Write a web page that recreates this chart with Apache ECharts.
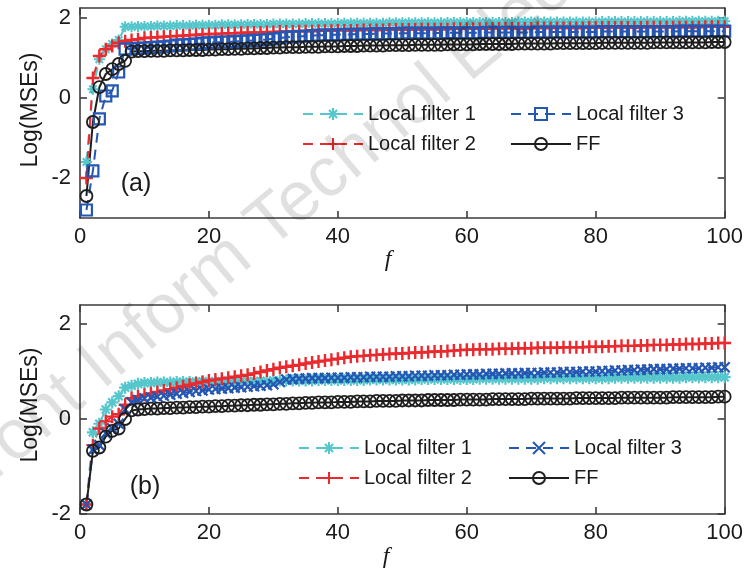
<!DOCTYPE html>
<html><head><meta charset="utf-8">
<script src="https://cdn.jsdelivr.net/npm/echarts@6/dist/echarts.min.js"></script>
<style>html,body{margin:0;padding:0;background:#fff}#c{width:746px;height:570px}</style>
</head><body><div id="c"></div>
<script>
// x samples f = 1..100
const f = Array.from({length: 100}, (_, i) => i + 1);

const xTicks = [0, 20, 40, 60, 80, 100];
const yTicksA = [-2, 0, 2];
const yTicksB = [-2, 0, 2];

const seriesNames = ['Local filter 1', 'Local filter 2', 'Local filter 3', 'FF'];

// ---- panel (a) ----
const a_lf1 = [-1.60,0.22,0.97,1.22,1.35,1.45,1.78,1.78,1.79,1.79,
1.79,1.80,1.80,1.80,1.81,1.81,1.81,1.82,1.82,1.82,
1.82,1.83,1.83,1.83,1.83,1.84,1.84,1.84,1.84,1.85,
1.85,1.85,1.85,1.85,1.86,1.86,1.86,1.86,1.86,1.86,
1.87,1.87,1.87,1.87,1.87,1.87,1.87,1.88,1.88,1.88,
1.88,1.88,1.88,1.88,1.88,1.88,1.89,1.89,1.89,1.89,
1.89,1.89,1.89,1.89,1.89,1.89,1.89,1.90,1.90,1.90,
1.90,1.90,1.90,1.90,1.90,1.90,1.90,1.90,1.90,1.90,
1.91,1.91,1.91,1.91,1.91,1.91,1.91,1.91,1.91,1.91,
1.91,1.91,1.92,1.92,1.92,1.92,1.92,1.92,1.92,1.92];
const a_lf2 = [-2.00,0.50,1.05,1.22,1.30,1.38,1.42,1.45,1.47,1.50,
1.51,1.52,1.53,1.54,1.55,1.56,1.57,1.58,1.59,1.60,
1.60,1.61,1.62,1.62,1.63,1.63,1.64,1.64,1.65,1.65,
1.66,1.66,1.66,1.67,1.67,1.67,1.68,1.68,1.68,1.69,
1.69,1.69,1.69,1.70,1.70,1.70,1.70,1.71,1.71,1.71,
1.71,1.71,1.72,1.72,1.72,1.72,1.72,1.73,1.73,1.73,
1.73,1.73,1.73,1.74,1.74,1.74,1.74,1.74,1.74,1.74,
1.75,1.75,1.75,1.75,1.75,1.75,1.75,1.75,1.76,1.76,
1.76,1.76,1.76,1.76,1.76,1.76,1.76,1.77,1.77,1.77,
1.77,1.77,1.77,1.77,1.77,1.77,1.78,1.78,1.78,1.78];
const a_lf3 = [-2.80,-1.82,-0.52,0.05,0.18,0.65,1.22,1.23,1.24,1.25,
1.26,1.27,1.28,1.30,1.32,1.33,1.34,1.35,1.37,1.38,
1.39,1.40,1.40,1.41,1.42,1.43,1.44,1.45,1.46,1.48,
1.50,1.52,1.53,1.54,1.55,1.56,1.57,1.57,1.58,1.58,
1.59,1.59,1.60,1.60,1.60,1.61,1.61,1.61,1.61,1.62,
1.62,1.62,1.62,1.62,1.62,1.63,1.63,1.63,1.63,1.63,
1.63,1.63,1.64,1.64,1.64,1.64,1.64,1.64,1.64,1.64,
1.65,1.65,1.65,1.65,1.65,1.65,1.65,1.65,1.65,1.65,
1.66,1.66,1.66,1.66,1.66,1.66,1.66,1.66,1.66,1.66,
1.66,1.66,1.67,1.67,1.67,1.67,1.67,1.67,1.67,1.67];
const a_ff = [-2.45,-0.60,0.27,0.60,0.72,0.85,0.93,1.16,1.17,1.17,
1.18,1.18,1.18,1.19,1.19,1.19,1.20,1.20,1.20,1.21,
1.21,1.22,1.22,1.23,1.23,1.24,1.24,1.25,1.25,1.26,
1.26,1.27,1.27,1.27,1.28,1.28,1.28,1.29,1.29,1.29,
1.30,1.30,1.30,1.31,1.31,1.31,1.31,1.32,1.32,1.32,
1.32,1.33,1.33,1.33,1.33,1.33,1.34,1.34,1.34,1.34,
1.34,1.35,1.35,1.35,1.35,1.35,1.35,1.36,1.36,1.36,
1.36,1.36,1.36,1.37,1.37,1.37,1.37,1.37,1.37,1.37,
1.38,1.38,1.38,1.38,1.38,1.38,1.38,1.38,1.39,1.39,
1.39,1.39,1.39,1.39,1.39,1.39,1.39,1.40,1.40,1.40];

// ---- panel (b) ----
const b_lf1 = [-1.80,-0.28,-0.10,0.20,0.35,0.48,0.66,0.70,0.74,0.76,
0.76,0.77,0.77,0.77,0.78,0.78,0.78,0.78,0.79,0.79,
0.79,0.79,0.79,0.80,0.80,0.80,0.80,0.80,0.80,0.81,
0.81,0.81,0.81,0.81,0.81,0.81,0.82,0.82,0.82,0.82,
0.82,0.82,0.82,0.82,0.83,0.83,0.83,0.83,0.83,0.83,
0.83,0.83,0.84,0.84,0.84,0.84,0.84,0.84,0.84,0.84,
0.84,0.85,0.85,0.85,0.85,0.85,0.85,0.85,0.85,0.85,
0.85,0.86,0.86,0.86,0.86,0.86,0.86,0.86,0.86,0.86,
0.86,0.86,0.87,0.87,0.87,0.87,0.87,0.87,0.87,0.87,
0.87,0.87,0.87,0.88,0.88,0.88,0.88,0.88,0.88,0.88];
const b_lf2 = [-1.80,-0.55,-0.20,-0.05,0.05,0.10,0.30,0.44,0.48,0.51,
0.54,0.57,0.60,0.63,0.66,0.69,0.72,0.75,0.78,0.81,
0.83,0.85,0.87,0.89,0.91,0.93,0.96,0.99,1.02,1.05,
1.08,1.10,1.12,1.14,1.17,1.19,1.21,1.23,1.25,1.27,
1.29,1.31,1.32,1.33,1.34,1.35,1.36,1.37,1.38,1.38,
1.39,1.40,1.40,1.41,1.42,1.42,1.43,1.44,1.45,1.46,
1.46,1.47,1.47,1.47,1.48,1.48,1.48,1.49,1.49,1.49,
1.50,1.50,1.50,1.50,1.51,1.51,1.51,1.51,1.52,1.52,
1.52,1.53,1.53,1.54,1.54,1.54,1.55,1.55,1.56,1.56,
1.56,1.57,1.57,1.58,1.58,1.58,1.59,1.59,1.60,1.60];
const b_lf3 = [-1.80,-0.65,-0.55,-0.30,-0.20,-0.10,0.20,0.35,0.40,0.43,
0.45,0.47,0.49,0.51,0.53,0.55,0.57,0.59,0.60,0.62,
0.63,0.64,0.65,0.66,0.67,0.68,0.69,0.70,0.71,0.73,
0.78,0.83,0.84,0.85,0.85,0.86,0.86,0.86,0.87,0.87,
0.87,0.88,0.88,0.88,0.89,0.89,0.89,0.89,0.90,0.90,
0.90,0.91,0.91,0.91,0.92,0.92,0.92,0.93,0.93,0.94,
0.94,0.94,0.95,0.95,0.95,0.96,0.96,0.96,0.97,0.97,
0.97,0.98,0.98,0.98,0.99,0.99,0.99,1.00,1.00,1.00,
1.01,1.01,1.02,1.02,1.03,1.03,1.04,1.04,1.05,1.05,
1.05,1.06,1.06,1.07,1.07,1.07,1.08,1.08,1.09,1.09];
const b_ff = [-1.80,-0.67,-0.60,-0.37,-0.25,-0.20,0.00,0.18,0.20,0.21,
0.22,0.22,0.23,0.23,0.24,0.24,0.25,0.25,0.26,0.26,
0.27,0.27,0.28,0.28,0.29,0.29,0.30,0.30,0.31,0.31,
0.32,0.32,0.33,0.33,0.34,0.34,0.35,0.35,0.35,0.36,
0.36,0.36,0.37,0.37,0.37,0.38,0.38,0.38,0.38,0.39,
0.39,0.39,0.39,0.40,0.40,0.40,0.40,0.40,0.41,0.41,
0.41,0.41,0.41,0.42,0.42,0.42,0.42,0.42,0.42,0.43,
0.43,0.43,0.43,0.43,0.43,0.43,0.44,0.44,0.44,0.44,
0.44,0.44,0.44,0.45,0.45,0.45,0.45,0.45,0.45,0.45,
0.45,0.46,0.46,0.46,0.46,0.46,0.46,0.46,0.47,0.47];

const C1 = '#55c6cc', C2 = '#ea2a2e', C3 = '#2457b3', C4 = '#1e1e1e';
const FONT = 'Liberation Sans, Arial, sans-serif';
const AXC = '#3c3c3c';

const PLUS = 'path://M0,5L10,5M5,0L5,10';
const ASTER = 'path://M0,5L10,5M5,0L5,10M1.6,1.6L8.4,8.4M8.4,1.6L1.6,8.4';
const XMARK = 'path://M0,0L10,10M10,0L0,10';

function pair(arr) { return f.map((x, i) => [x, arr[i]]); }

function mk(name, data, xi, yi, color, symbol, size, dashed, bw) {
  return {
    name, type: 'line', xAxisIndex: xi, yAxisIndex: yi,
    data: pair(data), symbol, symbolSize: size, showSymbol: true,
    animation: false,
    lineStyle: { color, width: 2, type: dashed ? [10, 7] : 'solid' },
    itemStyle: { color: 'rgba(0,0,0,0)', borderColor: color, borderWidth: bw },
    emphasis: { disabled: true }
  };
}

function xAx(grid, pos, showLabel) {
  return {
    gridIndex: grid, type: 'value', min: 0, max: 100, interval: 20, position: pos,
    axisLine: { show: true, onZero: false, lineStyle: { color: AXC, width: 1.6 } },
    axisTick: { show: true, inside: true, length: 7, lineStyle: { color: AXC, width: 1.6 } },
    axisLabel: { show: showLabel, fontSize: 22, color: '#1a1a1a', fontFamily: FONT, margin: 8,
      customValues: xTicks },
    splitLine: { show: false }
  };
}
function yAx(grid, pos, showLabel, mn, mx, ticks) {
  return {
    gridIndex: grid, type: 'value', min: mn, max: mx, position: pos,
    axisLine: { show: true, onZero: false, lineStyle: { color: AXC, width: 1.6 } },
    axisTick: { show: true, inside: true, length: 7, customValues: ticks, lineStyle: { color: AXC, width: 1.6 } },
    axisLabel: { show: showLabel, fontSize: 22, color: '#1a1a1a', fontFamily: FONT, margin: 9,
      customValues: ticks },
    splitLine: { show: false }
  };
}

function leg(left, top, names, suffix) {
  return {
    orient: 'vertical', left, top, itemWidth: 60, itemHeight: 15, itemGap: 10,
    selectedMode: false,
    data: names.map(n => n + suffix),
    formatter: (n) => n.replace(' (b)', ''),
    textStyle: { fontSize: 20, color: '#1a1a1a', fontFamily: FONT }
  };
}

const chart = echarts.init(document.getElementById('c'), null, { renderer: 'canvas' });
chart.setOption({
  backgroundColor: '#fff',
  animation: false,
  grid: [
    { left: 80, top: 8, width: 648, height: 210 },
    { left: 80, top: 305, width: 648, height: 209 }
  ],
  xAxis: [xAx(0, 'bottom', true), xAx(0, 'top', false), xAx(1, 'bottom', true), xAx(1, 'top', false)],
  yAxis: [yAx(0, 'left', true, -3, 2.25, yTicksA), yAx(0, 'right', false, -3, 2.25, yTicksA),
          yAx(1, 'left', true, -2, 2.4, yTicksB), yAx(1, 'right', false, -2, 2.4, yTicksB)],
  legend: [
    leg(297, 99, [seriesNames[0], seriesNames[1]], ''),
    leg(505, 99, [seriesNames[2], seriesNames[3]], ''),
    leg(293, 433, [seriesNames[0], seriesNames[1]], ' (b)'),
    leg(503, 433, [seriesNames[2], seriesNames[3]], ' (b)')
  ],
  series: [
    mk(seriesNames[0], a_lf1, 0, 0, C1, ASTER, 11, true, 2),
    mk(seriesNames[1], a_lf2, 0, 0, C2, PLUS, 13, true, 2.4),
    mk(seriesNames[2], a_lf3, 0, 0, C3, 'rect', 11, true, 2.2),
    mk(seriesNames[3], a_ff, 0, 0, C4, 'circle', 12, false, 1.8),
    mk(seriesNames[0] + ' (b)', b_lf1, 2, 2, C1, ASTER, 12, true, 2.2),
    mk(seriesNames[1] + ' (b)', b_lf2, 2, 2, C2, PLUS, 13, true, 2.4),
    mk(seriesNames[2] + ' (b)', b_lf3, 2, 2, C3, XMARK, 10, true, 2.2),
    mk(seriesNames[3] + ' (b)', b_ff, 2, 2, C4, 'circle', 12, false, 1.8)
  ],
  graphic: [
    { type: 'text', x: 31, y: 110, rotation: Math.PI / 2, z: 10,
      style: { text: 'Log(MSEs)', fontSize: 23, fontFamily: FONT, fill: '#1a1a1a', align: 'center', verticalAlign: 'middle', textAlign: 'center', textVerticalAlign: 'middle' } },
    { type: 'text', x: 31, y: 405, rotation: Math.PI / 2, z: 10,
      style: { text: 'Log(MSEs)', fontSize: 23, fontFamily: FONT, fill: '#1a1a1a', align: 'center', verticalAlign: 'middle', textAlign: 'center', textVerticalAlign: 'middle' } },
    { type: 'text', x: 388, y: 260, z: 10,
      style: { text: 'f', fontSize: 24, fontStyle: 'italic', fontFamily: 'Liberation Serif, serif', fill: '#1a1a1a', align: 'center', verticalAlign: 'middle', textAlign: 'center', textVerticalAlign: 'middle' } },
    { type: 'text', x: 386, y: 557, z: 10,
      style: { text: 'f', fontSize: 24, fontStyle: 'italic', fontFamily: 'Liberation Serif, serif', fill: '#1a1a1a', align: 'center', verticalAlign: 'middle', textAlign: 'center', textVerticalAlign: 'middle' } },
    { type: 'text', x: 136, y: 184, z: 10,
      style: { text: '(a)', fontSize: 25, fontFamily: FONT, fill: '#1a1a1a', align: 'center', verticalAlign: 'middle', textAlign: 'center', textVerticalAlign: 'middle' } },
    { type: 'text', x: 145, y: 487, z: 10,
      style: { text: '(b)', fontSize: 25, fontFamily: FONT, fill: '#1a1a1a', align: 'center', verticalAlign: 'middle', textAlign: 'center', textVerticalAlign: 'middle' } },
    { type: 'text', x: 357, y: 152, rotation: 0.698, z: 100, silent: true,
      style: { text: 'Front Inform Technol Electron Eng', fontSize: 70, fontFamily: FONT, fill: 'rgba(0,0,0,0.12)', align: 'center', verticalAlign: 'middle', textAlign: 'center', textVerticalAlign: 'middle' } }
  ]
});
</script>
</body></html>
